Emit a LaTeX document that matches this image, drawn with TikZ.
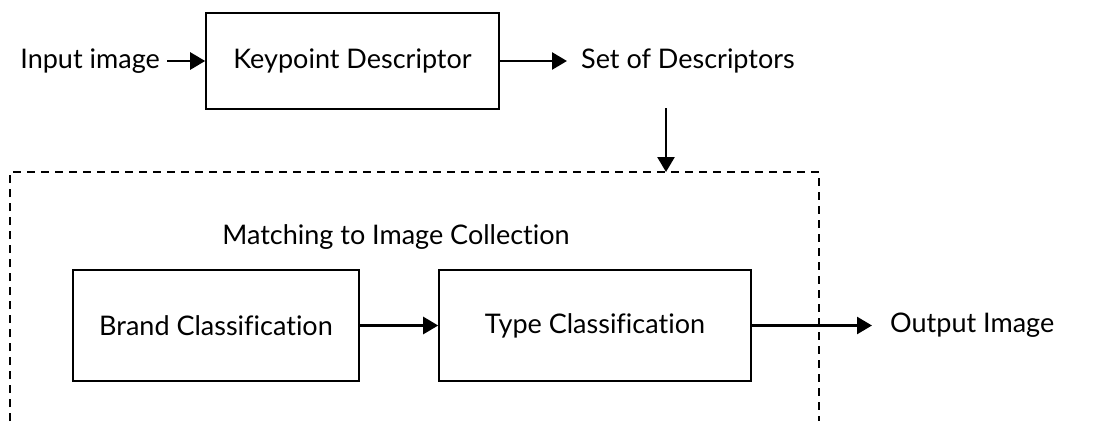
\documentclass[tikz,border=0pt]{standalone}
\usepackage{fontspec}
\setmainfont[Ligatures=NoCommon]{Lato}
\usetikzlibrary{arrows.meta}
\begin{document}
\begin{tikzpicture}[x=1pt,y=-1pt,
  every node/.style={font=\fontsize{27}{31}\selectfont, inner sep=0pt},
  procbox/.style={draw, line width=1.6pt, minimum width=#1, minimum height=96pt},
  flow/.style={line width=2.6pt, -{Triangle[length=15pt,width=17pt]}},
  region/.style={draw, line width=1.6pt, dash pattern=on 8pt off 6pt}]
\useasboundingbox (0,0) rectangle (1093,421);
% top row
\node[anchor=east] (in) at (160,61) {Input image};
\node[procbox=293pt] (kp) at (352.5,61) {Keypoint Descriptor};
\node[anchor=west] (sod) at (581,61) {Set of Descriptors};
\draw[flow] (in.east) ++(7,0) coordinate (a0) (a0) -- (kp.west);
\draw[flow, shorten >=14pt] (kp.east) -- (sod.west);
% down arrow
\coordinate (d1) at (666,108);
\coordinate (d2) at (666,172);
\draw[flow] (d1) -- (d2);
% dashed region
\draw[region] (10,421) -- (10,172) -- (819,172) -- (819,421);
\node (match) at (396,237) {Matching to Image Collection};
\node[procbox=286pt, minimum height=111pt] (brand) at (216,325.5) {Brand Classification};
\node[procbox=312pt, minimum height=111pt] (type) at (595,325.5) {Type Classification};
\node[anchor=west] (out) at (890,325.5) {Output Image};
\draw[flow] (brand.east) -- (type.west);
\draw[flow, shorten >=18pt] (type.east) -- (out.west);
\end{tikzpicture}
\end{document}
